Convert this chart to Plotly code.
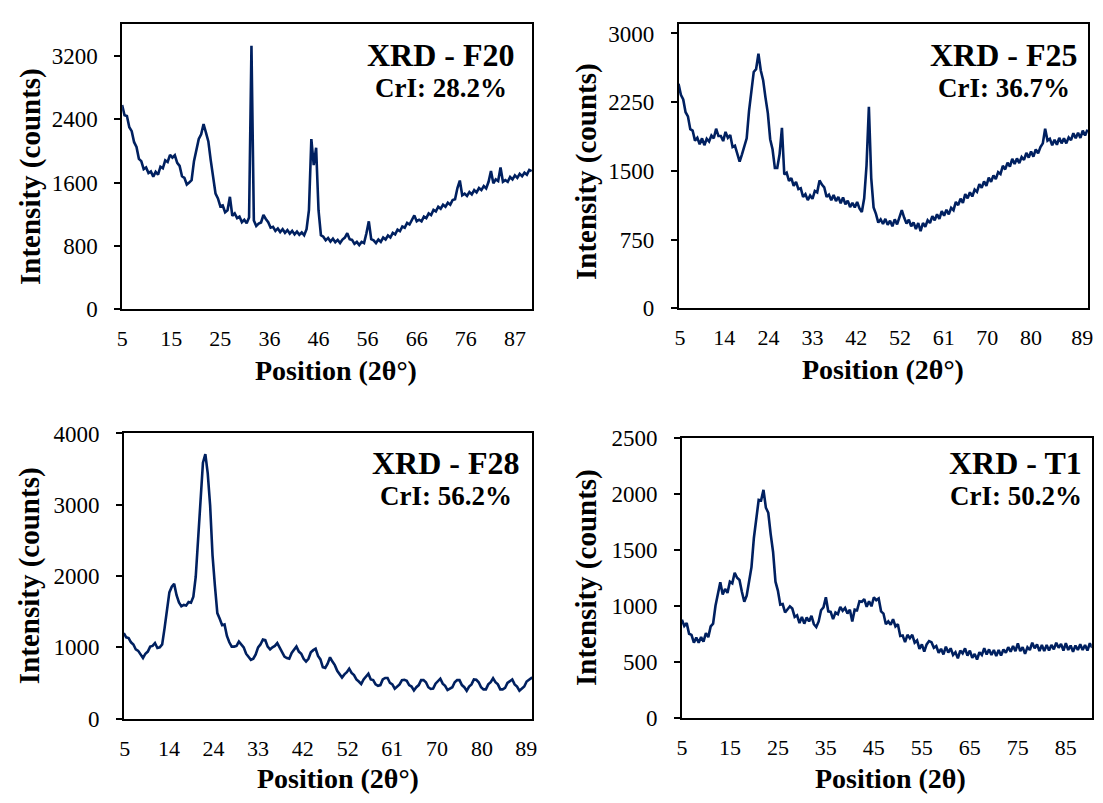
import plotly.graph_objects as go

FONT = "Liberation Serif"
LINE_COLOR = "#002060"
W, H = 1103, 803

# ---------------- data (2θ grid: start + step*i) ----------------
f20_start, f20_step = 5.0, 0.5
f20_counts = [
    2580, 2450, 2440, 2300, 2250, 2110, 2050, 1900, 1870, 1770,
    1790, 1720, 1740, 1675, 1735, 1700, 1800, 1780, 1880, 1860,
    1950, 1915, 1945, 1850, 1810, 1680, 1660, 1575, 1600, 1630,
    1870, 2010, 2150, 2210, 2340, 2230, 2120, 1880, 1670, 1460,
    1400, 1300, 1310, 1225, 1250, 1420, 1180, 1210, 1150, 1170,
    1100, 1130, 1085, 1160, 3330, 1120, 1050, 1080, 1095, 1190,
    1140, 1100, 1030, 1040, 990, 1020, 975, 1010, 965, 1000,
    955, 990, 945, 980, 940, 970, 935, 1010, 1250, 2150,
    1820, 2040, 1250, 935, 915, 870, 900, 855, 890, 845,
    875, 835, 880, 905, 960, 885, 875, 825, 850, 810,
    850, 835, 960, 1110, 885, 870, 835, 880, 850, 905,
    880, 930, 905, 965, 945, 1005, 985, 1045, 1030, 1090,
    1070, 1125, 1185, 1110, 1130, 1110, 1170, 1150, 1210, 1190,
    1255, 1235, 1295, 1270, 1320, 1295, 1345, 1320, 1380, 1390,
    1530, 1625, 1440, 1460, 1430, 1480, 1450, 1505, 1475, 1530,
    1505, 1555, 1525, 1610, 1745, 1590, 1640, 1620, 1790, 1610,
    1630, 1610, 1670, 1640, 1690, 1660, 1710, 1680, 1725, 1700,
    1760, 1745,
]

f25_start, f25_step = 5.0, 0.5
f25_counts = [
    2450, 2330, 2280, 2140, 2095, 1955, 1940, 1830, 1860, 1790,
    1855, 1780, 1850, 1820, 1885, 1855, 1960, 1880, 1880, 1825,
    1925, 1860, 1890, 1760, 1775, 1685, 1600, 1680, 1780, 1855,
    2155, 2350, 2580, 2610, 2780, 2595, 2490, 2300, 2130, 1845,
    1735, 1530, 1530, 1680, 1970, 1460, 1480, 1390, 1420, 1335,
    1380, 1300, 1310, 1215, 1245, 1180, 1230, 1195, 1280, 1265,
    1395, 1350, 1320, 1215, 1240, 1180, 1235, 1170, 1215, 1145,
    1210, 1135, 1175, 1105, 1150, 1100, 1160, 1090, 1050, 1200,
    1560, 2200, 1420, 1100, 1030, 935, 970, 920, 975, 910,
    955, 895, 970, 915, 995, 1070, 990, 925, 965, 895,
    935, 865, 930, 840, 930, 890, 960, 930, 1005, 960,
    1025, 975, 1060, 1010, 1075, 1025, 1095, 1070, 1160, 1125,
    1195, 1150, 1245, 1200, 1265, 1220, 1295, 1270, 1355, 1315,
    1385, 1335, 1425, 1380, 1450, 1410, 1485, 1465, 1555, 1515,
    1590, 1545, 1630, 1575, 1635, 1585, 1650, 1620, 1695, 1645,
    1710, 1655, 1735, 1690, 1760, 1800, 1960, 1830, 1850, 1780,
    1840, 1785, 1860, 1800, 1855, 1800, 1865, 1835, 1910, 1855,
    1915, 1860, 1940, 1885, 1950,
]

f28_start, f28_step = 5.0, 0.5
f28_counts = [
    1200, 1140, 1130, 1070, 1040, 970, 950, 895, 850, 910,
    940, 1010, 1020, 1060, 990, 1000, 1040, 1270, 1490, 1770,
    1850, 1890, 1730, 1630, 1575, 1595, 1585, 1635, 1625, 1710,
    1990, 2510, 3060, 3590, 3710, 3440, 2990, 2290, 1860, 1480,
    1400, 1310, 1320, 1160, 1070, 1010, 1010, 1020, 1080, 1040,
    1000, 910, 870, 825, 840, 900, 1000, 1040, 1110, 1100,
    1010, 970, 1000, 1020, 1060, 990, 940, 870, 850, 840,
    920, 960, 1010, 940, 910, 840, 800, 840, 930, 960,
    980, 880, 830, 720, 710, 770, 860, 800, 750, 670,
    630, 575, 620, 650, 700, 640, 610, 550, 520, 485,
    550, 590, 630, 550, 540, 480, 460, 470, 550, 570,
    570, 500, 480, 420, 450, 480, 540, 545, 530, 470,
    450, 395, 440, 470, 540, 540, 510, 440, 415, 420,
    490, 520, 560, 490, 460, 400, 415, 440, 510, 540,
    540, 470, 440, 390, 450, 480, 550, 545, 510, 440,
    410, 410, 480, 510, 565, 510, 480, 410, 410, 430,
    500, 520, 550, 480, 450, 390, 420, 450, 520, 540,
    570, 560,
]

t1_start, t1_step = 5.0, 0.5
t1_counts = [
    880, 825, 850, 755, 745, 675, 720, 675, 725, 685,
    760, 725, 820, 845, 1005, 1100, 1215, 1105, 1155, 1120,
    1220, 1205, 1300, 1255, 1235, 1130, 1040, 1095, 1225, 1350,
    1610, 1805, 1950, 1945, 2040, 1880, 1835, 1645, 1485, 1220,
    1140, 1015, 1020, 945, 975, 1000, 980, 905, 920, 850,
    905, 845, 900, 865, 915, 840, 815, 865, 965, 990,
    1080, 955, 950, 885, 945, 930, 995, 960, 985, 935,
    970, 865, 970, 965, 1045, 1040, 1065, 995, 1045, 1000,
    1080, 1055, 1070, 955, 935, 840, 865, 835, 885, 820,
    840, 735, 740, 680, 745, 715, 745, 675, 695, 620,
    660, 595, 660, 690, 680, 630, 645, 585, 620, 570,
    640, 587, 625, 565, 590, 535, 605, 580, 625, 560,
    605, 540, 575, 525, 590, 565, 625, 570, 615, 565,
    610, 555, 610, 560, 615, 585, 635, 595, 645, 600,
    670, 600, 635, 575, 635, 610, 675, 625, 660, 600,
    655, 600, 655, 605, 655, 615, 675, 630, 665, 605,
    670, 610, 650, 595, 650, 610, 660, 610, 655, 605,
    670, 630,
]

# tick positions and labels
f20_xtick_pos = [5, 15.25, 25.5, 35.75, 46, 56.25, 66.5, 76.75, 87]
f20_xtick_lab = ["5", "15", "25", "36", "46", "56", "66", "76", "87"]
f20_ytick = [0, 800, 1600, 2400, 3200]

f25_xtick_pos = [5.3, 14.75, 24.15, 33.5, 42.8, 52.1, 61.4, 70.7, 80.0, 90.9]
f25_xtick_lab = ["5", "14", "24", "33", "42", "52", "61", "70", "80", "89"]
f25_ytick = [0, 750, 1500, 2250, 3000]

f28_xtick_pos = [5.2, 14.4, 23.7, 33, 42.3, 51.7, 61, 70.3, 79.7, 88.9]
f28_xtick_lab = ["5", "14", "24", "33", "42", "52", "61", "70", "80", "89"]
f28_ytick = [0, 1000, 2000, 3000, 4000]

t1_xtick_pos = [5, 15, 25, 35, 45, 55, 65, 75, 85]
t1_xtick_lab = ["5", "15", "25", "35", "45", "55", "65", "75", "85"]
t1_ytick = [0, 500, 1000, 1500, 2000, 2500]

panels = [
    dict(label="XRD - F20", cri="CrI: 28.2%", start=f20_start, step=f20_step, y=f20_counts,
         xr=[5, 90.65], yr=[0, 3600], xtv=f20_xtick_pos, xtt=f20_xtick_lab, ytv=f20_ytick,
         box=(117.3, 531.7, 12.7, 306.7), lab=(439.5, 44, 78), xt=(333, 370), xtitle="Position (2θ°)",
         yt=(24.5, 170)),
    dict(label="XRD - F25", cri="CrI: 36.7%", start=f25_start, step=f25_step, y=f25_counts,
         xr=[5, 92.2], yr=[0, 3100], xtv=f25_xtick_pos, xtt=f25_xtick_lab, ytv=f25_ytick,
         box=(679.3, 1093.3, 12.7, 305.7), lab=(1008, 44.7, 78), xt=(886, 369), xtitle="Position (2θ°)",
         yt=(587, 165)),
    dict(label="XRD - F28", cri="CrI: 56.2%", start=f28_start, step=f28_step, y=f28_counts,
         xr=[5, 90.2], yr=[0, 4000], xtv=f28_xtick_pos, xtt=f28_xtick_lab, ytv=f28_ytick,
         box=(119, 531.7, 435, 729.3), lab=(444.5, 466, 500), xt=(335, 791), xtitle="Position (2θ°)",
         yt=(24.5, 582)),
    dict(label="XRD - T1", cri="CrI: 50.2%", start=t1_start, step=t1_step, y=t1_counts,
         xr=[5, 90.4], yr=[0, 2500], xtv=t1_xtick_pos, xtt=t1_xtick_lab, ytv=t1_ytick,
         box=(682.7, 1096.7, 440, 729), lab=(1020, 466, 500), xt=(893, 791), xtitle="Position (2θ)",
         yt=(587, 584)),
]


def px_x(v):
    return v / W


def px_y(v):
    return 1 - v / H


fig = go.Figure()
layout = dict(
    width=W, height=H, margin=dict(l=0, r=0, t=0, b=0),
    paper_bgcolor="white", plot_bgcolor="white", showlegend=False,
    font=dict(family=FONT, color="black"),
)
annotations = []

for i, p in enumerate(panels):
    k = "" if i == 0 else str(i + 1)
    xs = [p["start"] + p["step"] * j for j in range(len(p["y"]))]
    fig.add_trace(go.Scatter(x=xs, y=p["y"], mode="lines", xaxis="x" + k, yaxis="y" + k,
                             line=dict(color=LINE_COLOR, width=2.6), hoverinfo="skip"))
    l, r, t, b = p["box"]
    layout["xaxis" + k] = dict(
        domain=[px_x(l), px_x(r)], range=p["xr"], anchor="y" + k,
        showgrid=False, zeroline=False, showline=True, mirror=True,
        linecolor="black", linewidth=1.5, ticks="",
        tickvals=p["xtv"], ticktext=p["xtt"], ticklabelstandoff=9,
        tickfont=dict(family=FONT, size=22, color="black"),
    )
    layout["yaxis" + k] = dict(
        domain=[px_y(b), px_y(t)], range=p["yr"], anchor="x" + k,
        showgrid=False, zeroline=False, showline=True, mirror=True,
        linecolor="black", linewidth=1.5, ticks="outside", ticklen=6,
        tickwidth=1.5, tickcolor="black",
        tickvals=p["ytv"], ticktext=[str(v) for v in p["ytv"]], ticklabelstandoff=12,
        tickfont=dict(family=FONT, size=23, color="black"),
    )
    cx, ty, cy = p["lab"]
    annotations.append(dict(x=px_x(cx), y=px_y(ty), xref="paper", yref="paper",
                            text="<b>" + p["label"] + "</b>", showarrow=False,
                            xanchor="center", yanchor="middle",
                            font=dict(family=FONT, size=32, color="black")))
    annotations.append(dict(x=px_x(cx), y=px_y(cy), xref="paper", yref="paper",
                            text="<b>" + p["cri"] + "</b>", showarrow=False,
                            xanchor="center", yanchor="middle",
                            font=dict(family=FONT, size=27, color="black")))
    xx, xy = p["xt"]
    annotations.append(dict(x=px_x(xx), y=px_y(xy), xref="paper", yref="paper",
                            text="<b>" + p["xtitle"] + "</b>", showarrow=False,
                            xanchor="center", yanchor="middle",
                            font=dict(family=FONT, size=28, color="black")))
    yx, yy = p["yt"]
    annotations.append(dict(x=px_x(yx), y=px_y(yy), xref="paper", yref="paper",
                            text="<b>Intensity (counts)</b>", showarrow=False, textangle=-90,
                            xanchor="center", yanchor="middle",
                            font=dict(family=FONT, size=29, color="black")))

layout["annotations"] = annotations
fig.update_layout(**layout)
fig.write_html("out.html")
